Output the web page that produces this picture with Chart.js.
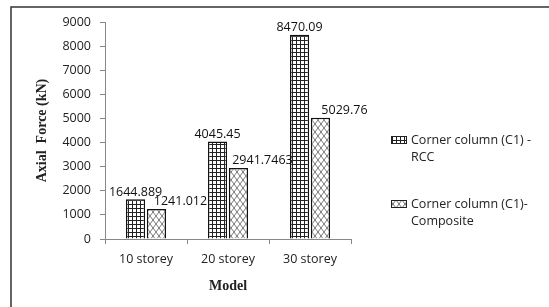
<!DOCTYPE html>
<html>
<head>
<meta charset="utf-8">
<script src="https://cdn.jsdelivr.net/npm/chart.js@4.4.0/dist/chart.umd.min.js"></script>
<style>
  html, body { margin: 0; padding: 0; background: #fff; }
  #wrap { width: 549px; height: 307px; position: relative; }
</style>
</head>
<body>
<div id="wrap"><canvas id="axialChart"></canvas></div>
<script>
var models = ['10 storey', '20 storey', '30 storey'];
var rccValues = [1644.889, 4045.45, 8470.09];
var compositeValues = [1241.012, 2941.7463, 5029.76];
var rccLegend = ['Corner column (C1) -', 'RCC'];
var compositeLegend = ['Corner column (C1)-', 'Composite'];

var textFont = '"Open Sans", "DejaVu Sans", sans-serif';
var titleFont = '"Liberation Serif", "Times New Roman", serif';

// hatch fills
function makeGridPattern() {
	var c = document.createElement('canvas');
	c.width = 4; c.height = 4;
	var g = c.getContext('2d');
	g.fillStyle = '#fff';
	g.fillRect(0, 0, 4, 4);
	g.fillStyle = '#222';
	g.fillRect(0, 0, 4, 1);
	g.fillRect(0, 0, 1, 4);
	return g.createPattern(c, 'repeat');
}

function makeCrossPattern() {
	var c = document.createElement('canvas');
	c.width = 6; c.height = 8;
	var g = c.getContext('2d');
	g.fillStyle = '#fff';
	g.fillRect(0, 0, 6, 8);
	g.strokeStyle = '#555';
	g.lineWidth = 0.8;
	g.beginPath();
	g.moveTo(0, 0); g.lineTo(6, 8);
	g.moveTo(6, 0); g.lineTo(0, 8);
	g.stroke();
	return g.createPattern(c, 'repeat');
}

var gridFill = makeGridPattern();
var crossFill = makeCrossPattern();

var framePlugin = {
	id: 'frame',
	beforeDraw: function (chart) {
		var ctx = chart.ctx;
		ctx.save();
		ctx.fillStyle = '#fff';
		ctx.fillRect(0, 0, chart.width, chart.height);
		ctx.strokeStyle = '#333';
		ctx.lineWidth = 1.5;
		ctx.strokeRect(11, 7, chart.width + 20, chart.height + 20);
		ctx.restore();
	}
};

var valueLabelPlugin = {
	id: 'valueLabels',
	afterDatasetsDraw: function (chart) {
		var ctx = chart.ctx;
		var offsets = [0, 24];
		ctx.save();
		ctx.font = '12.5px ' + textFont;
		ctx.fillStyle = '#111';
		ctx.textAlign = 'center';
		ctx.textBaseline = 'bottom';
		chart.data.datasets.forEach(function (ds, di) {
			var meta = chart.getDatasetMeta(di);
			meta.data.forEach(function (bar, i) {
				ctx.fillText(String(ds.data[i]), bar.x + offsets[di], bar.y - 1);
			});
		});
		ctx.restore();
	}
};

var sideLegendPlugin = {
	id: 'sideLegend',
	afterDraw: function (chart) {
		var ctx = chart.ctx;
		var tops = [136, 200];
		ctx.save();
		ctx.font = '12.5px ' + textFont;
		ctx.textAlign = 'left';
		ctx.textBaseline = 'middle';
		chart.data.datasets.forEach(function (ds, di) {
			var y = tops[di];
			ctx.fillStyle = ds.backgroundColor;
			ctx.fillRect(391, y, 16, 8);
			ctx.strokeStyle = '#222';
			ctx.lineWidth = 1;
			ctx.strokeRect(391.5, y + 0.5, 15, 7);
			ctx.fillStyle = '#222';
			ds.legendLines.forEach(function (line, li) {
				ctx.fillText(line, 411, y + 4 + li * 17);
			});
		});
		ctx.restore();
	}
};

var config = {
	'type': 'bar',
	'data': {
		'labels': models,
		'datasets': [{
			'label': rccLegend.join(' '),
			'legendLines': rccLegend,
			'data': rccValues,
			'backgroundColor': gridFill,
			'borderColor': '#111',
			'borderWidth': 1.5,
			'categoryPercentage': 0.51,
			'barPercentage': 0.92
		}, {
			'label': compositeLegend.join(' '),
			'legendLines': compositeLegend,
			'data': compositeValues,
			'backgroundColor': crossFill,
			'borderColor': '#111',
			'borderWidth': 1.5,
			'categoryPercentage': 0.51,
			'barPercentage': 0.92
		}]
	},
	'options': {
		'responsive': true,
		'maintainAspectRatio': false,
		'animation': false,
		'layout': { 'padding': { 'left': 30, 'right': 198, 'top': 22, 'bottom': 8 } },
		'plugins': {
			'legend': { 'display': false },
			'tooltip': { 'enabled': false }
		},
		'scales': {
			'x': {
				'grid': { 'display': true, 'drawOnChartArea': false, 'drawTicks': true, 'tickLength': 5, 'color': '#888' },
				'border': { 'color': '#888', 'width': 1 },
				'ticks': { 'color': '#222', 'padding': 8, 'font': { 'family': textFont, 'size': 12.5 } },
				'title': { 'display': true, 'text': 'Model', 'color': '#222', 'padding': { 'top': 4 },
					'font': { 'family': titleFont, 'size': 14, 'weight': 'bold' } },
				'afterFit': function (scale) { scale.height = 60; }
			},
			'y': {
				'min': 0,
				'max': 9000,
				'grid': { 'display': true, 'drawOnChartArea': false, 'drawTicks': true, 'tickLength': 5, 'color': '#888' },
				'border': { 'color': '#888', 'width': 1 },
				'ticks': { 'stepSize': 1000, 'color': '#222', 'padding': 9, 'font': { 'family': textFont, 'size': 12.5 },
					'callback': function (value) { return String(value); } },
				'title': { 'display': true, 'text': 'Axial  Force (kN)', 'color': '#222', 'padding': { 'top': 4, 'bottom': 0 },
					'font': { 'family': titleFont, 'size': 14, 'weight': 'bold' } },
				'afterFit': function (scale) { scale.width = 75; }
			}
		}
	},
	'plugins': [framePlugin, valueLabelPlugin, sideLegendPlugin]
};

var axialChart = new Chart(document.getElementById('axialChart'), config);
</script>
</body>
</html>
